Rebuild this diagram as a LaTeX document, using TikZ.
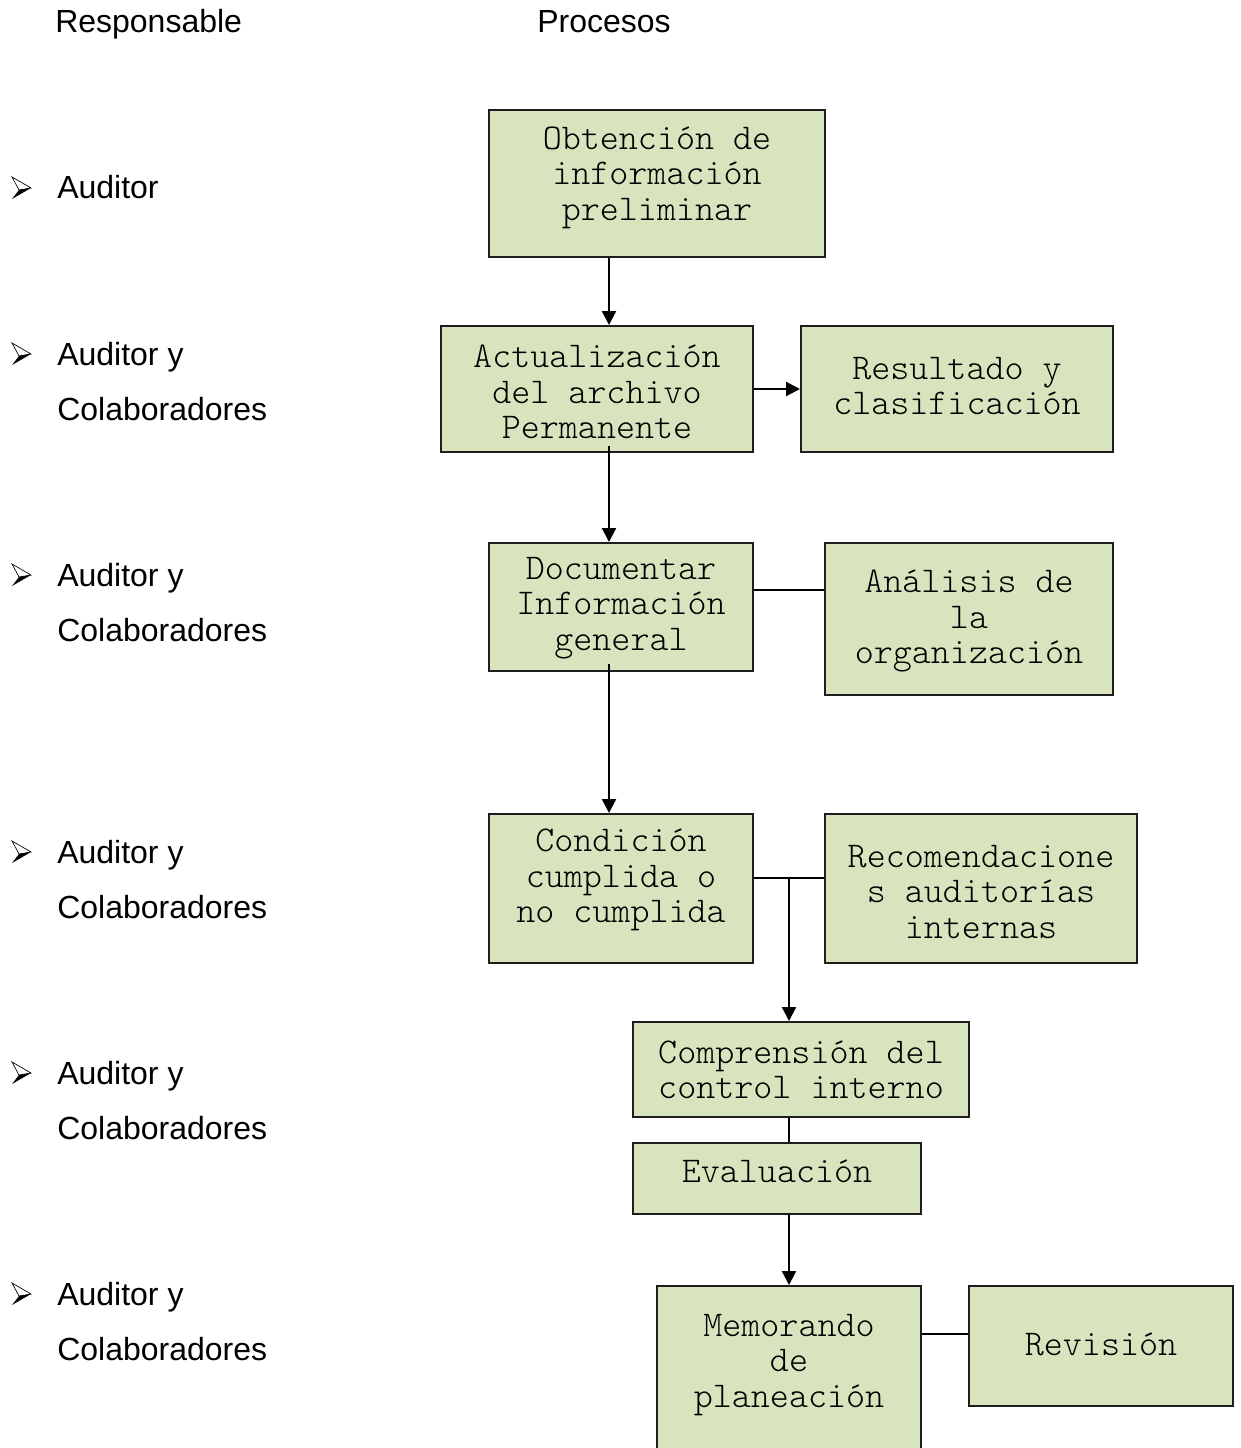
\documentclass[tikz,border=0pt]{standalone}
\usepackage{fontspec}
\setmainfont{Liberation Sans}
\newfontfamily\boxfont{Latin Modern Mono Light}
\usetikzlibrary{arrows.meta,fit}
\definecolor{boxfill}{RGB}{215,228,189}
\definecolor{boxline}{RGB}{30,30,30}
\tikzset{
  stepbox/.style={draw=boxline, line width=1.5pt, fill=boxfill, inner sep=0pt, rectangle},
  boxtext/.style={align=center, inner sep=0pt,
    font=\boxfont\fontsize{27.2pt}{26.6pt}\selectfont},
  side/.style={anchor=base west, inner sep=0pt, font=\fontsize{24pt}{28pt}\selectfont},
  link/.style={line width=1.6pt, draw=black},
  arr/.style={link, -{Triangle[length=10.5pt,width=10.5pt]}},
}
% Wingdings-style arrowhead bullet
\newcommand{\bulletmark}[2]{%
  \fill[white] (#1-19,#2-11) -- (#1,#2) -- (#1-12,#2+2) -- cycle;
  \draw[line width=0.5pt] (#1-19,#2-11) -- (#1,#2) -- (#1-12,#2+2) -- cycle;
  \fill[black] (#1-12,#2+2) -- (#1,#2) -- (#1-19,#2+11) -- cycle;
}
\begin{document}
\begin{tikzpicture}[x=0.75pt,y=-0.75pt]
\useasboundingbox (0,0) rectangle (1240,1448);
\clip (0,0) rectangle (1240,1448);

% column headers
\node[side] (hresp) at (55,33) {Responsable};
\node[side] (hproc) at (537,33) {Procesos};

% responsible column
\bulletmark{31}{188}
\node[side] (r1) at (57,199) {Auditor};
\foreach \yy/\nm in {354/r2, 575/r3, 852/r4, 1073/r5, 1294/r6}{
  \bulletmark{31}{\yy}
  \node[side] (\nm a) at (57,\yy+11) {Auditor y};
  \node[side] (\nm b) at (57,\yy+66) {Colaboradores};
}

% process boxes
\node[stepbox, fit={(489,110) (825,257)}] (b1) {};
\node[stepbox, fit={(441,326) (753,452)}] (b2) {};
\node[stepbox, fit={(801,326) (1113,452)}] (b3) {};
\node[stepbox, fit={(489,543) (753,671)}] (b4) {};
\node[stepbox, fit={(825,543) (1113,695)}] (b5) {};
\node[stepbox, fit={(489,814) (753,963)}] (b6) {};
\node[stepbox, fit={(825,814) (1137,963)}] (b7) {};
\node[stepbox, fit={(633,1022) (969,1117)}] (b8) {};
\node[stepbox, fit={(633,1143) (921,1214)}] (b9) {};
\node[stepbox, fit={(657,1286) (921,1480)}] (b10) {};
\node[stepbox, fit={(969,1286) (1233,1406)}] (b11) {};

% box labels
\node[boxtext] (t1) at (657,177.5) {Obtención de\\información\\preliminar};
\node[boxtext] (t2) at (597,392) {Actualización\\del archivo\\Permanente};
\node[boxtext] (t3) at (957,386) {Resultado y\\clasificación};
\node[boxtext] (t4) at (621,608) {Documentar\\Información\\general};
\node[boxtext] (t5) at (969,621) {Análisis de\\la\\organización};
\node[boxtext] (t6) at (621,880) {Condición\\cumplida o\\no cumplida};
\node[boxtext] (t7) at (981,892) {Recomendacione\\s auditorías\\internas};
\node[boxtext] (t8) at (801,1070) {Comprensión del\\control interno};
\node[boxtext] (t9) at (777,1171) {Evaluación};
\node[boxtext] (t10) at (789,1365) {Memorando\\de\\planeación};
\node[boxtext] (t11) at (1101,1344) {Revisión};

% guide coordinates for the connector lines
\coordinate (spineA) at (609,0);
\coordinate (spineB) at (789,0);
\coordinate (rowC) at (0,590);
\coordinate (rowD) at (0,878);
\coordinate (rowF) at (0,1334);
\coordinate (splitD) at (789,878);

% connectors
\draw[arr] (spineA |- b1.south) -- (spineA |- b2.north);
\draw[arr] (b2.east) -- (b3.west);
\draw[arr] ([yshift=5pt]spineA |- b2.south) -- (spineA |- b4.north);
\draw[link] (b4.east |- rowC) -- (b5.west |- rowC);
\draw[arr] ([yshift=6pt]spineA |- b4.south) -- (spineA |- b6.north);
\draw[link] (b6.east |- rowD) -- (b7.west |- rowD);
\draw[arr] (splitD) -- (spineB |- b8.north);
\draw[link] (spineB |- b8.south) -- (spineB |- b9.north);
\draw[arr] (spineB |- b9.south) -- (b10.north);
\draw[link] (b10.east |- rowF) -- (b11.west |- rowF);
\end{tikzpicture}
\end{document}
